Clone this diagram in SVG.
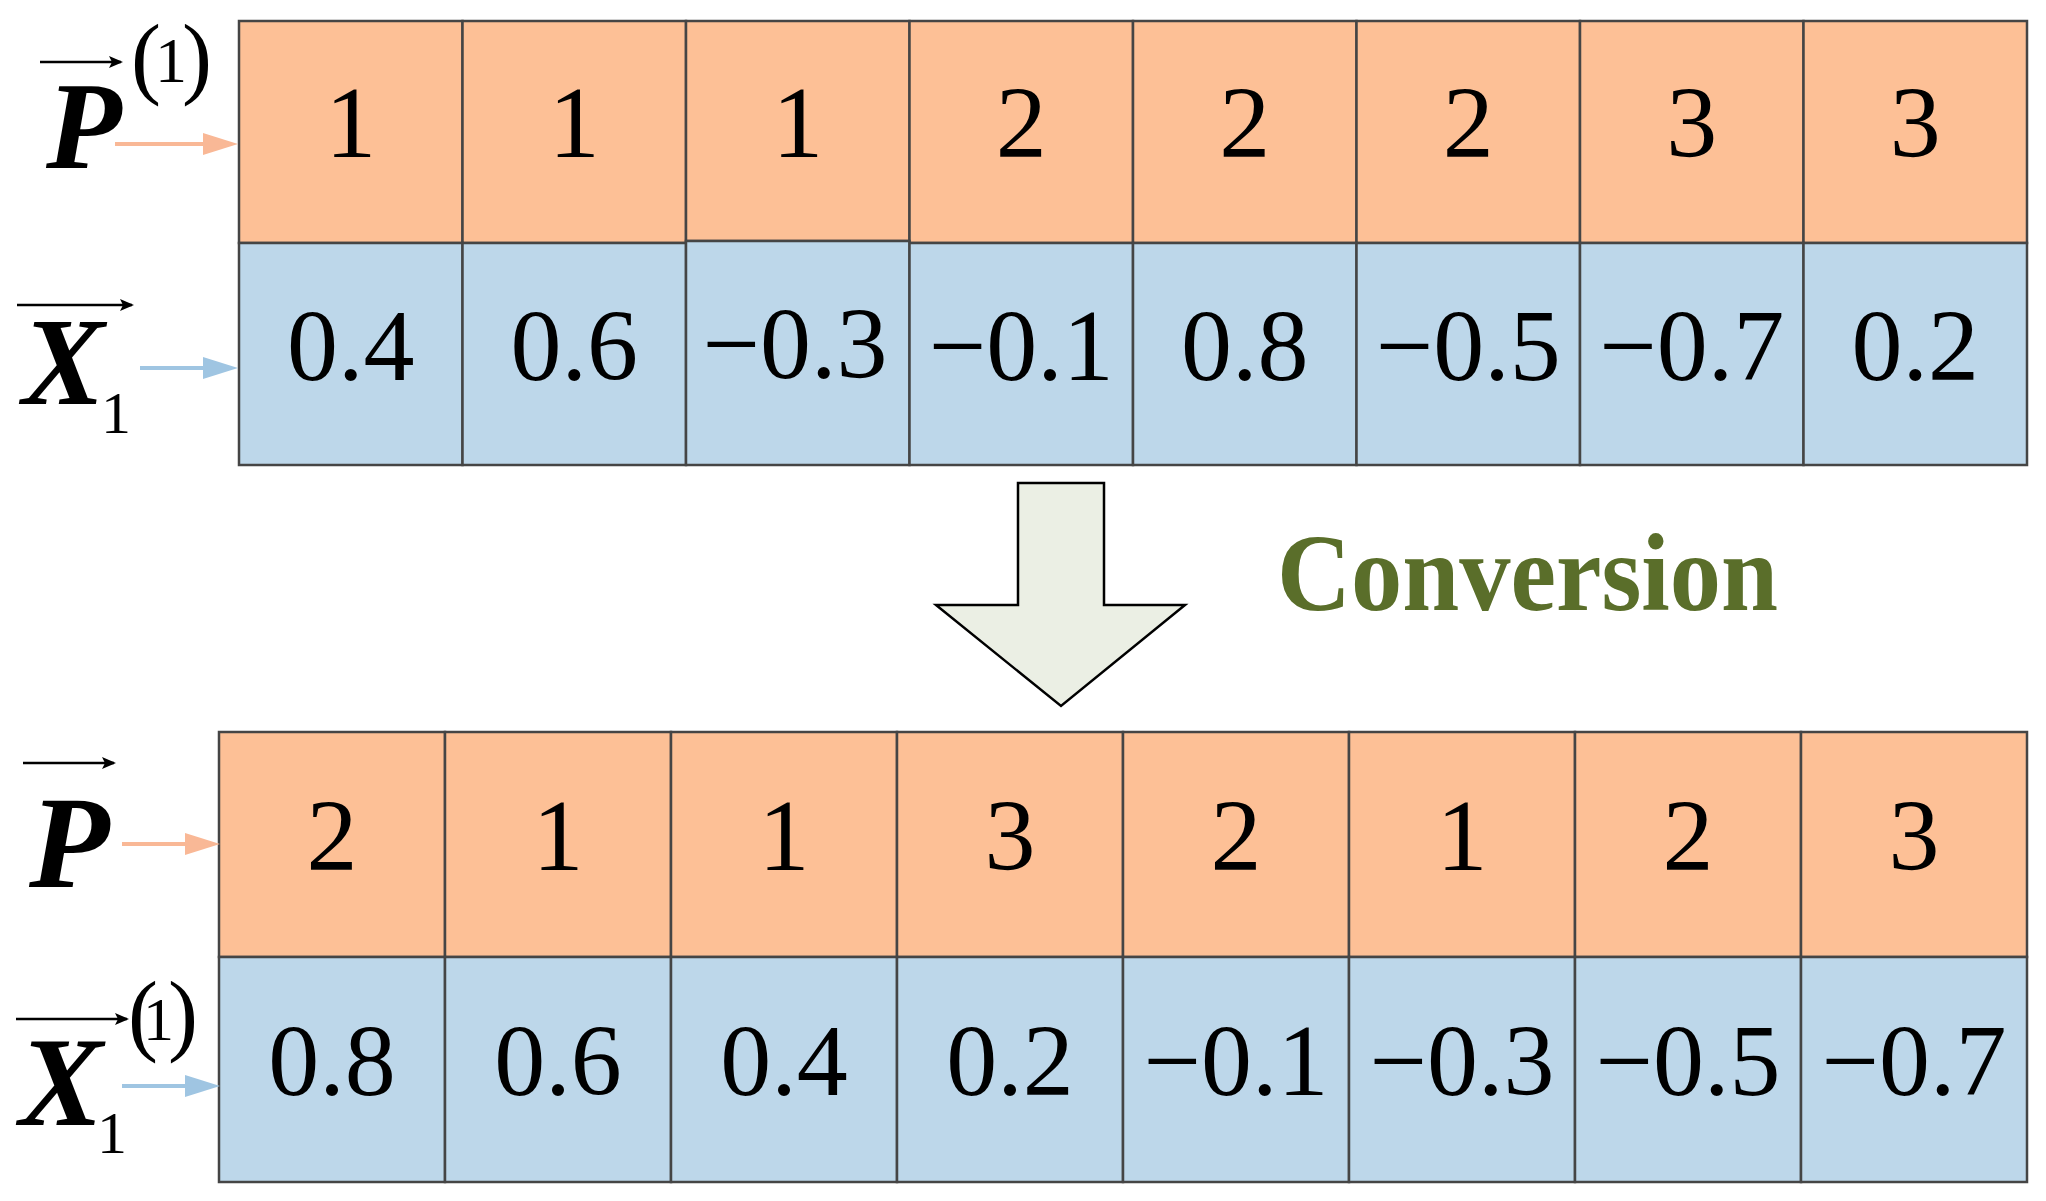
<svg xmlns="http://www.w3.org/2000/svg" width="2046" height="1201" viewBox="0 0 2046 1201">
<style>
.p{fill:#fdc096;stroke:#454545;stroke-width:2.5}
.x{fill:#bdd7ea;stroke:#454545;stroke-width:2.5}
.n{font-family:"Liberation Serif","Times New Roman",serif;font-size:102px;fill:#000;text-anchor:middle}
.lab{font-family:"Liberation Serif","Times New Roman",serif;font-weight:bold;font-style:italic;fill:#000}
.sm{font-family:"Liberation Serif","Times New Roman",serif;fill:#000}
.ov{stroke:#000;stroke-width:2.5;fill:none}
.ca{stroke:#f9b896;stroke-width:4;fill:none}
.cb{stroke:#9fc5e2;stroke-width:4;fill:none}
</style>
<defs>
<marker id="hk" markerUnits="userSpaceOnUse" markerWidth="14" markerHeight="12" refX="12" refY="6" orient="auto"><path d="M0,0 L14,6 L0,12 L3,6 z" fill="#000"/></marker>
<marker id="ho" markerUnits="userSpaceOnUse" markerWidth="36" markerHeight="24" refX="3" refY="12" orient="auto"><path d="M0,1 L35,12 L0,23 z" fill="#f9b896"/></marker>
<marker id="hb" markerUnits="userSpaceOnUse" markerWidth="36" markerHeight="24" refX="3" refY="12" orient="auto"><path d="M0,1 L35,12 L0,23 z" fill="#9fc5e2"/></marker>
</defs>
<rect width="2046" height="1201" fill="#fff"/>

<g id="label-P1">
<line class="ov" x1="40" y1="62" x2="121" y2="62" marker-end="url(#hk)"/>
<text class="lab" x="46" y="168" font-size="124">P</text>
<text class="sm"><tspan x="131" y="87" font-size="90">(</tspan><tspan x="155" y="82" font-size="64">1</tspan><tspan x="182" y="87" font-size="90">)</tspan></text>
</g>
<g id="label-X1">
<line class="ov" x1="17" y1="305" x2="132" y2="305" marker-end="url(#hk)"/>
<text class="lab" x="22" y="404" font-size="124">X</text>
<text class="sm" x="101" y="433" font-size="60">1</text>
</g>
<g id="label-P">
<line class="ov" x1="23" y1="763" x2="114" y2="763" marker-end="url(#hk)"/>
<text class="lab" x="29" y="887" font-size="132">P</text>
</g>
<g id="label-X1-1">
<line class="ov" x1="16" y1="1019" x2="127" y2="1019" marker-end="url(#hk)"/>
<text class="lab" x="19" y="1125" font-size="126">X</text>
<text class="sm"><tspan x="97" y="1153" font-size="60">1</tspan><tspan x="128" y="1044" font-size="90">(</tspan><tspan x="143" y="1040" font-size="62">1</tspan><tspan x="168" y="1044" font-size="90">)</tspan></text>
</g>

<g id="top-grid">
<g id="tp1"><rect class="p" x="239" y="21" width="223.5" height="222"/><text class="n" x="350.75" y="157">1</text></g>
<g id="tp2"><rect class="p" x="462.5" y="21" width="223.5" height="222"/><text class="n" x="574.25" y="157">1</text></g>
<g id="tp3"><rect class="p" x="686" y="21" width="223.5" height="220"/><text class="n" x="797.75" y="157">1</text></g>
<g id="tp4"><rect class="p" x="909.5" y="21" width="223.5" height="222"/><text class="n" x="1021.25" y="157">2</text></g>
<g id="tp5"><rect class="p" x="1133" y="21" width="223.5" height="222"/><text class="n" x="1244.75" y="157">2</text></g>
<g id="tp6"><rect class="p" x="1356.5" y="21" width="223.5" height="222"/><text class="n" x="1468.25" y="157">2</text></g>
<g id="tp7"><rect class="p" x="1580" y="21" width="223.5" height="222"/><text class="n" x="1691.75" y="157">3</text></g>
<g id="tp8"><rect class="p" x="1803.5" y="21" width="223.5" height="222"/><text class="n" x="1915.25" y="157">3</text></g>
<g id="tx1"><rect class="x" x="239" y="243" width="223.5" height="222"/><text class="n" x="350.75" y="380">0.4</text></g>
<g id="tx2"><rect class="x" x="462.5" y="243" width="223.5" height="222"/><text class="n" x="574.25" y="380">0.6</text></g>
<g id="tx3"><rect class="x" x="686" y="241" width="223.5" height="224"/><text class="n" x="795" y="378">−0.3</text></g>
<g id="tx4"><rect class="x" x="909.5" y="243" width="223.5" height="222"/><text class="n" x="1021.25" y="380">−0.1</text></g>
<g id="tx5"><rect class="x" x="1133" y="243" width="223.5" height="222"/><text class="n" x="1244.75" y="380">0.8</text></g>
<g id="tx6"><rect class="x" x="1356.5" y="243" width="223.5" height="222"/><text class="n" x="1468.25" y="380">−0.5</text></g>
<g id="tx7"><rect class="x" x="1580" y="243" width="223.5" height="222"/><text class="n" x="1691.75" y="380">−0.7</text></g>
<g id="tx8"><rect class="x" x="1803.5" y="243" width="223.5" height="222"/><text class="n" x="1915.25" y="380">0.2</text></g>
</g>

<g id="bottom-grid">
<g id="bp1"><rect class="p" x="219" y="732" width="226" height="225"/><text class="n" x="332" y="870">2</text></g>
<g id="bp2"><rect class="p" x="445" y="732" width="226" height="225"/><text class="n" x="558" y="870">1</text></g>
<g id="bp3"><rect class="p" x="671" y="732" width="226" height="225"/><text class="n" x="784" y="870">1</text></g>
<g id="bp4"><rect class="p" x="897" y="732" width="226" height="225"/><text class="n" x="1010" y="870">3</text></g>
<g id="bp5"><rect class="p" x="1123" y="732" width="226" height="225"/><text class="n" x="1236" y="870">2</text></g>
<g id="bp6"><rect class="p" x="1349" y="732" width="226" height="225"/><text class="n" x="1462" y="870">1</text></g>
<g id="bp7"><rect class="p" x="1575" y="732" width="226" height="225"/><text class="n" x="1688" y="870">2</text></g>
<g id="bp8"><rect class="p" x="1801" y="732" width="226" height="225"/><text class="n" x="1914" y="870">3</text></g>
<g id="bx1"><rect class="x" x="219" y="957" width="226" height="225"/><text class="n" x="332" y="1095">0.8</text></g>
<g id="bx2"><rect class="x" x="445" y="957" width="226" height="225"/><text class="n" x="558" y="1095">0.6</text></g>
<g id="bx3"><rect class="x" x="671" y="957" width="226" height="225"/><text class="n" x="784" y="1095">0.4</text></g>
<g id="bx4"><rect class="x" x="897" y="957" width="226" height="225"/><text class="n" x="1010" y="1095">0.2</text></g>
<g id="bx5"><rect class="x" x="1123" y="957" width="226" height="225"/><text class="n" x="1236" y="1095">−0.1</text></g>
<g id="bx6"><rect class="x" x="1349" y="957" width="226" height="225"/><text class="n" x="1462" y="1095">−0.3</text></g>
<g id="bx7"><rect class="x" x="1575" y="957" width="226" height="225"/><text class="n" x="1688" y="1095">−0.5</text></g>
<g id="bx8"><rect class="x" x="1801" y="957" width="226" height="225"/><text class="n" x="1914" y="1095">−0.7</text></g>
</g>

<g id="conversion-arrow">
<polygon points="1018,483 1104,483 1104,605 1185,605 1061,706 936,605 1018,605" fill="#ebefe4" stroke="#000" stroke-width="2.5" stroke-linejoin="miter"/>
</g>
<g id="conversion-label">
<text x="1277" y="610" font-family="'Liberation Serif','Times New Roman',serif" font-weight="bold" font-size="110" fill="#5a6e2a" textLength="501" lengthAdjust="spacingAndGlyphs">Conversion</text>
</g>

<g id="connectors">
<line class="ca" x1="115" y1="144" x2="206" y2="144" marker-end="url(#ho)"/>
<line class="cb" x1="140" y1="368" x2="206" y2="368" marker-end="url(#hb)"/>
<line class="ca" x1="122" y1="844" x2="188" y2="844" marker-end="url(#ho)"/>
<line class="cb" x1="122" y1="1086" x2="188" y2="1086" marker-end="url(#hb)"/>
</g>
</svg>
